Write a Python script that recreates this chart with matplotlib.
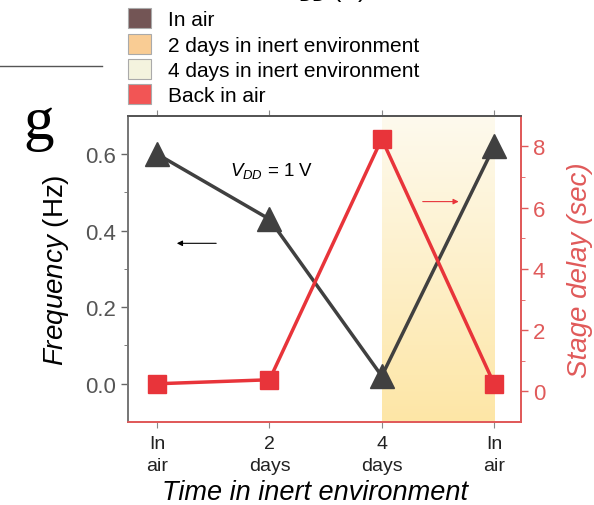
import numpy as np
import matplotlib
matplotlib.use("Agg")
import matplotlib.pyplot as plt
from matplotlib.patches import Patch
from matplotlib.lines import Line2D
from matplotlib.colors import LinearSegmentedColormap

plt.rcParams['font.family'] = ['Liberation Sans', 'DejaVu Sans']
plt.rcParams['mathtext.fontset'] = 'custom'
plt.rcParams['mathtext.rm'] = 'Liberation Sans'
plt.rcParams['mathtext.it'] = 'Liberation Sans:italic'

# data
stages = ["In\nair", "2\ndays", "4\ndays", "In\nair"]
frequency = [0.60, 0.43, 0.02, 0.62]      # Hz
stage_delay = [0.25, 0.38, 8.25, 0.25]    # sec

legend_labels = ["In air", "2 days in inert environment",
                 "4 days in inert environment", "Back in air"]
legend_colors = ["#735555", "#f9cc94", "#f4f3de", "#f25555"]

dark = "#404040"
red = "#e8343a"
axred = "#e05a5a"
x = np.arange(len(stages))

fig = plt.figure(figsize=(5.94, 5.06), dpi=100)
ax = fig.add_axes([0.2155, 0.164, 0.6616, 0.605])
ax2 = ax.twinx()

# shaded region (4 days -> back in air)
grad = np.linspace(0, 1, 256).reshape(-1, 1)
cmap = LinearSegmentedColormap.from_list("sh", ["#fefaee", "#fde6a6"])
ax.imshow(grad, extent=[2, 3, -0.1, 0.7], aspect="auto", cmap=cmap,
          origin="upper", zorder=0)

ax.plot(x, frequency, color=dark, lw=2.5, marker="^", ms=17, zorder=3)
ax2.plot(x, stage_delay, color=red, lw=2.5, marker="s", ms=13, zorder=3)

ax.set_xlim(-0.26, 3.24)
ax.set_ylim(-0.1, 0.7)
ax2.set_ylim(-1, 9)

ax.set_xticks(x)
ax.set_xticklabels(stages, fontsize=14, color="#222222", linespacing=1.45)
ax.set_yticks([0.0, 0.2, 0.4, 0.6])
ax.set_yticks([0.1, 0.3, 0.5], minor=True)
ax.yaxis.set_major_formatter(matplotlib.ticker.FormatStrFormatter("%.1f"))
ax2.set_yticks([0, 2, 4, 6, 8])
ax2.set_yticks([1, 3, 5, 7], minor=True)

ax.tick_params(axis="y", labelsize=16, labelcolor="#555555", color="#666666",
               length=5, width=1)
ax.tick_params(axis="y", which="minor", length=3, color="#666666")
ax.tick_params(axis="x", top=True, length=4, color="#888888", pad=5)
ax2.tick_params(axis="y", labelsize=16, labelcolor=axred, color=axred,
                length=5, width=1)
ax2.tick_params(axis="y", which="minor", length=3, color=axred)

for a in (ax, ax2):
    a.spines["left"].set_color("#777777")
    a.spines["top"].set_color("#555555")
    a.spines["bottom"].set_color(axred)
    a.spines["right"].set_color(axred)
    for s in a.spines.values():
        s.set_linewidth(1.3)
ax2.patch.set_visible(False)

ax.set_ylabel("$\\it{Frequency}$ (Hz)", fontsize=20, labelpad=10)
ax2.set_ylabel("Stage delay (sec)", fontsize=20, color=axred,
               style="italic", labelpad=16)
ax.set_xlabel("Time in inert environment", fontsize=19.5, style="italic")
ax.xaxis.set_label_coords(0.476, -0.252, transform=ax.transAxes)
ax.xaxis.label.set_va("baseline")

ax.text(0.65, 0.558, "$V_{DD}$ = 1 V", fontsize=13.5, ha="left", va="center")
ax.annotate("", xy=(0.15, 0.367), xytext=(0.55, 0.367),
            arrowprops=dict(arrowstyle="-|>", color="black", lw=0.8,
                            mutation_scale=8))
ax2.annotate("", xy=(2.71, 6.2), xytext=(2.34, 6.2),
             arrowprops=dict(arrowstyle="-|>", color=red, lw=0.8,
                             mutation_scale=8))

# legend at top (cropped figure)
handles = [Patch(facecolor=c, edgecolor="#aaaaaa", lw=0.8) for c in legend_colors]
fig.legend(handles, legend_labels, loc="upper left",
           bbox_to_anchor=(0.202, 0.998), frameon=False, fontsize=15,
           handlelength=1.1, handleheight=1.1, labelspacing=0.2,
           handletextpad=0.8, borderaxespad=0)
fig.text(0.476, 1.005, "$V_{DD}$ (V)", fontsize=18, ha="left", va="baseline")
fig.add_artist(Line2D([0, 0.172], [0.868, 0.868], color="#555555", lw=1))
fig.text(0.039, 0.725, "g", fontsize=44, family="Liberation Serif",
         ha="left", va="baseline")

fig.savefig("out.png", dpi=100)
